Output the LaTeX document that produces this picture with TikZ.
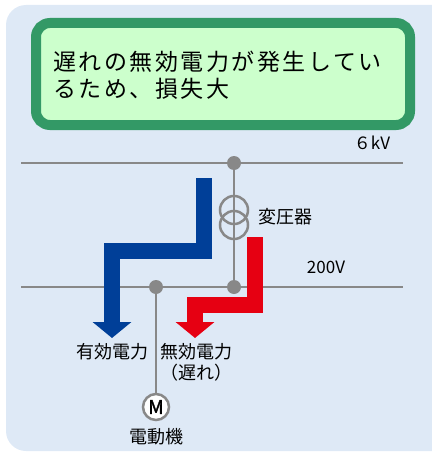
\documentclass[tikz,border=0pt]{standalone}
\usepackage{fontspec}
\setmainfont{Noto Sans CJK JP}
\usetikzlibrary{arrows.meta}
\definecolor{bgblue}{RGB}{222,233,246}
\definecolor{boxgreen}{RGB}{51,153,102}
\definecolor{boxfill}{RGB}{204,255,204}
\definecolor{wiregray}{RGB}{136,136,136}
\definecolor{pblue}{RGB}{0,63,152}
\definecolor{qred}{RGB}{230,0,18}
\begin{document}
\begin{tikzpicture}[x=1pt,y=-1pt,
    wire/.style={wiregray,line width=2.5pt},
    dot/.style={circle,fill=wiregray,inner sep=0pt,minimum size=14pt},
    lbl/.style={inner sep=0pt,font=\fontsize{18}{20}\selectfont},
    flow/.style={line width=16pt,line join=miter,-{Triangle[width=38pt,length=16pt]}}]
    \useasboundingbox (0,0) rectangle (431,452);
    \fill[bgblue,rounded corners=20pt] (6,5) rectangle (460,451);
    % message box
    \draw[boxgreen,fill=boxfill,line width=10pt,rounded corners=14pt] (36,23) rectangle (410,125);
    \node[anchor=west,align=left,inner sep=0pt,
      font=\addfontfeatures{LetterSpace=11}\fontsize{23}{27}\selectfont] (msg) at (53,75)
      {遅れの無効電力が発生してい\\るため、損失大};
    % buses
    \coordinate (hvL) at (21,163); \coordinate (hvR) at (403,163);
    \coordinate (lvL) at (21,287); \coordinate (lvR) at (403,287);
    \draw[wire] (hvL) -- (hvR);
    \draw[wire] (lvL) -- (lvR);
    \node[lbl,font=\fontsize{17}{20}\selectfont] (hvlbl) at (372,143) {６kV};
    \node[lbl,font=\fontsize{17}{20}\selectfont] (lvlbl) at (326,267) {200V};
    % transformer
    \node[dot] (hvtap) at (234,163) {};
    \node[dot] (lvtap) at (234,287) {};
    \draw[wire] (hvtap) -- (lvtap);
    \foreach \y in {210,225}{
      \draw[wire] (234,\y) circle (14pt);
    }
    \node[lbl] (trlbl) at (285,217) {変圧器};
    % motor
    \node[dot] (mtap) at (156,287) {};
    \node[circle,draw=wiregray,line width=2.5pt,fill=white,inner sep=0pt,minimum size=26pt,
      font=\addfontfeatures{FakeBold=2}\fontsize{19}{19}\selectfont] (mot) at (156,407) {M};
    \draw[wire] (mtap) -- (mot);
    \node[lbl] (motlbl) at (156,437) {電動機};
    % power flows
    \coordinate (pA) at (204,178); \coordinate (pB) at (112,338);
    \coordinate (qA) at (255,237); \coordinate (qB) at (195,338);
    \draw[flow,pblue] (pA) -- ++(0,72.5) -| (pB);
    \draw[flow,qred] (qA) -- ++(0,67.5) -| (qB);
    \node[lbl] (plbl) at (112.5,352) {有効電力};
    \node[lbl] (qlbl) at (196,352) {無効電力};
    \node[lbl] (qlbl2) at (196,373) {（遅れ）};
\end{tikzpicture}
\end{document}
